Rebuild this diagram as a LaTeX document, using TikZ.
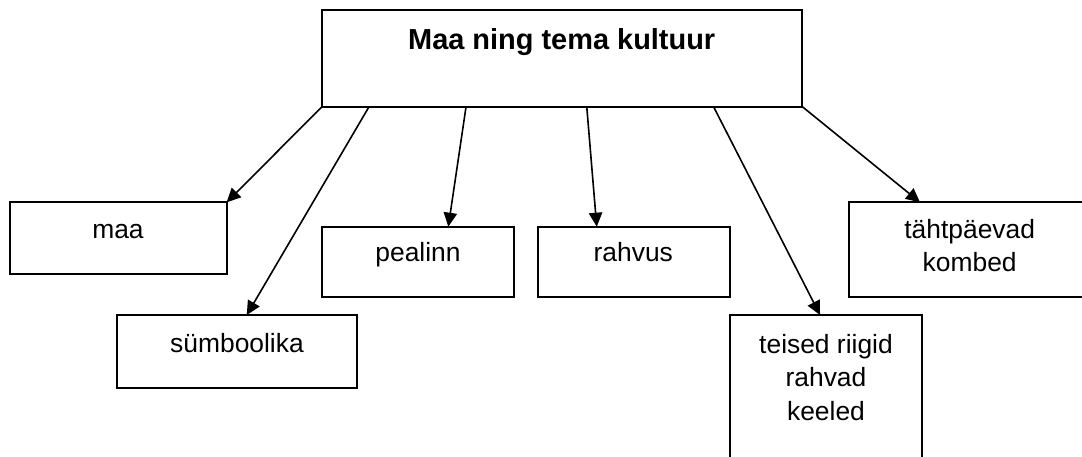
\documentclass[tikz,border=0pt]{standalone}
\usepackage{fontspec}
\setmainfont{Liberation Sans}
\usetikzlibrary{arrows.meta,calc}
\tikzset{
  box/.style 2 args={draw, line width=1.3pt, inner sep=0pt, outer sep=0pt,
    minimum width=#1*0.75pt, minimum height=#2*0.75pt},
  lbl/.style={anchor=base, inner sep=0pt, align=center,
    font=\fontsize{19.8}{25}\selectfont},
  ttl/.style={anchor=base, inner sep=0pt,
    font=\fontsize{21.7}{26}\selectfont\bfseries},
  conn/.style={line width=1.2pt, -{Triangle[length=10.5pt,width=10pt]}}
}
\begin{document}
\begin{tikzpicture}[x=0.75pt,y=-0.75pt]
\useasboundingbox[fill=white] (0,0) rectangle (1082,457);
% boxes
\node[box={480.3}{96.4}] (top) at (562.2,58.5) {};
\node[box={216.7}{71.7}] (maa) at (118.3,238.2) {};
\node[box={240.3}{73.3}] (sym) at (237.2,351.7) {};
\node[box={192}{70.6}]   (pea) at (418,262) {};
\node[box={191.7}{70.6}] (rah) at (634.2,262) {};
\node[box={240.7}{94.4}] (tah) at (969.7,249.5) {};
\node[box={192.3}{155}]  (tei) at (826.2,392.5) {};
% texts
\node[ttl] (ttop) at (561.7,49.3) {Maa ning tema kultuur};
\node[lbl] (tmaa) at (118,238.7) {maa};
\node[lbl] (tsym) at (237,352.7) {sümboolika};
\node[lbl] (tpea) at (418,261.7) {pealinn};
\node[lbl] (trah) at (633.3,261.7) {rahvus};
\node[lbl] (ttah) at (969.7,271.7) {tähtpäevad\\kombed};
\node[lbl] (ttei) at (826,420) {teised riigid\\rahvad\\keeled};
% connectors
\draw[conn] (top.south west) -- (maa.north east);
\draw[conn] ($(top.south west)+(47,0)$) -- ($(sym.north west)+(129.7,0)$);
\draw[conn] ($(top.south west)+(144,0)$) -- ($(pea.north west)+(126.3,0)$);
\draw[conn] ($(top.south west)+(264.7,0)$) -- ($(rah.north west)+(58.4,0)$);
\draw[conn] ($(top.south west)+(391.5,0)$) -- ($(tei.north west)+(90,0)$);
\draw[conn] (top.south east) -- ($(tah.north west)+(70.7,0)$);
\end{tikzpicture}
\end{document}
